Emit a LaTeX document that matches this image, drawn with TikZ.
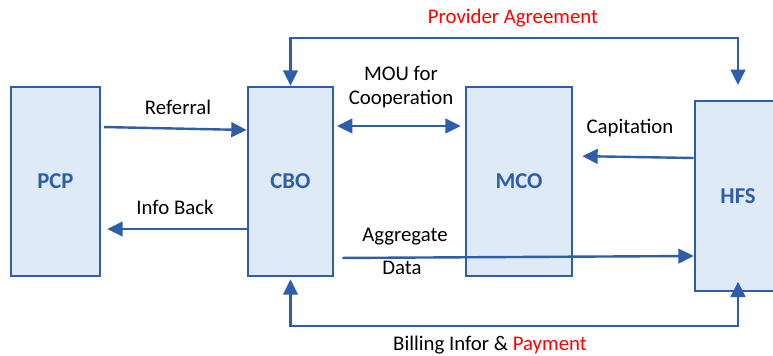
\documentclass[tikz,border=0pt]{standalone}
\usepackage{fontspec}
\setmainfont{Carlito}
\usetikzlibrary{arrows.meta}

\definecolor{boxfill}{RGB}{222,235,247}
\definecolor{boxline}{RGB}{46,94,170}
\definecolor{lblred}{RGB}{255,0,0}

\tikzset{
  party/.style={draw=boxline, fill=boxfill, line width=2pt, minimum height=141.75pt,
    text=boxline, font=\fontsize{17}{20}\selectfont\bfseries},
  flow/.style={draw=boxline, line width=1.8pt, -{Triangle[length=11.5pt,width=11pt]}},
  flows/.style={flow, {Triangle[length=11.5pt,width=11pt]}-{Triangle[length=11.5pt,width=11pt]}},
  lbl/.style={font=\fontsize{15.6}{18}\selectfont, inner sep=0pt, align=center}
}

\begin{document}
\begin{tikzpicture}[x=0.75pt, y=-0.75pt]
  \clip (0,0) rectangle (773,356);

  % parties
  \node[party, minimum width=66.75pt] (pcp) at (55.5,181.5) {PCP};
  \node[party, minimum width=63.75pt] (cbo) at (290.5,181.5) {CBO};
  \node[party, minimum width=79.5pt] (mco) at (519,181.5) {MCO};
  \node[party, minimum width=64.5pt, minimum height=142.5pt] (hfs) at (738,196) {HFS};

  % flows between neighbours
  \draw[flow, shorten <=2pt] (pcp.east |- 0,127) -- (cbo.west |- 0,130);
  \draw[flow, shorten >=4.5pt] (cbo.west |- 0,229) -- (pcp.east |- 0,229);
  \draw[flows, shorten <=2pt, shorten >=3pt] (cbo.east |- 0,126) -- (mco.west |- 0,126);
  \draw[flow, shorten >=6.75pt] (hfs.west |- 0,158) -- (mco.east |- 0,156);
  \draw[flow, shorten <=6pt] (cbo.east |- 0,258) -- (hfs.west |- 0,256);

  % loops over and under
  \draw[flows, shorten >=11pt] (cbo.north) |- (hfs.north |- 0,38) -- (hfs.north);
  \draw[flows, shorten <=1.5pt, shorten >=-8pt] (cbo.south) |- (hfs.south |- 0,326) -- (hfs.south);

  % flow labels
  \node[lbl, text=lblred] (agree) at (513,18) {Provider Agreement};
  \node[lbl] (referral) at (178,107) {Referral};
  \node[lbl] (infoback) at (175,207) {Info Back};
  \node[lbl] (mou) at (401,87) {MOU for\\Cooperation};
  \node[lbl] (capit) at (630,128) {Capitation};
  \node[lbl] (aggr) at (405,237) {Aggregate};
  \node[lbl] (data) at (402,268) {Data};
  \node[lbl] (billing) at (490,345) {Billing Infor \& \textcolor{lblred}{Payment}};

\end{tikzpicture}
\end{document}
